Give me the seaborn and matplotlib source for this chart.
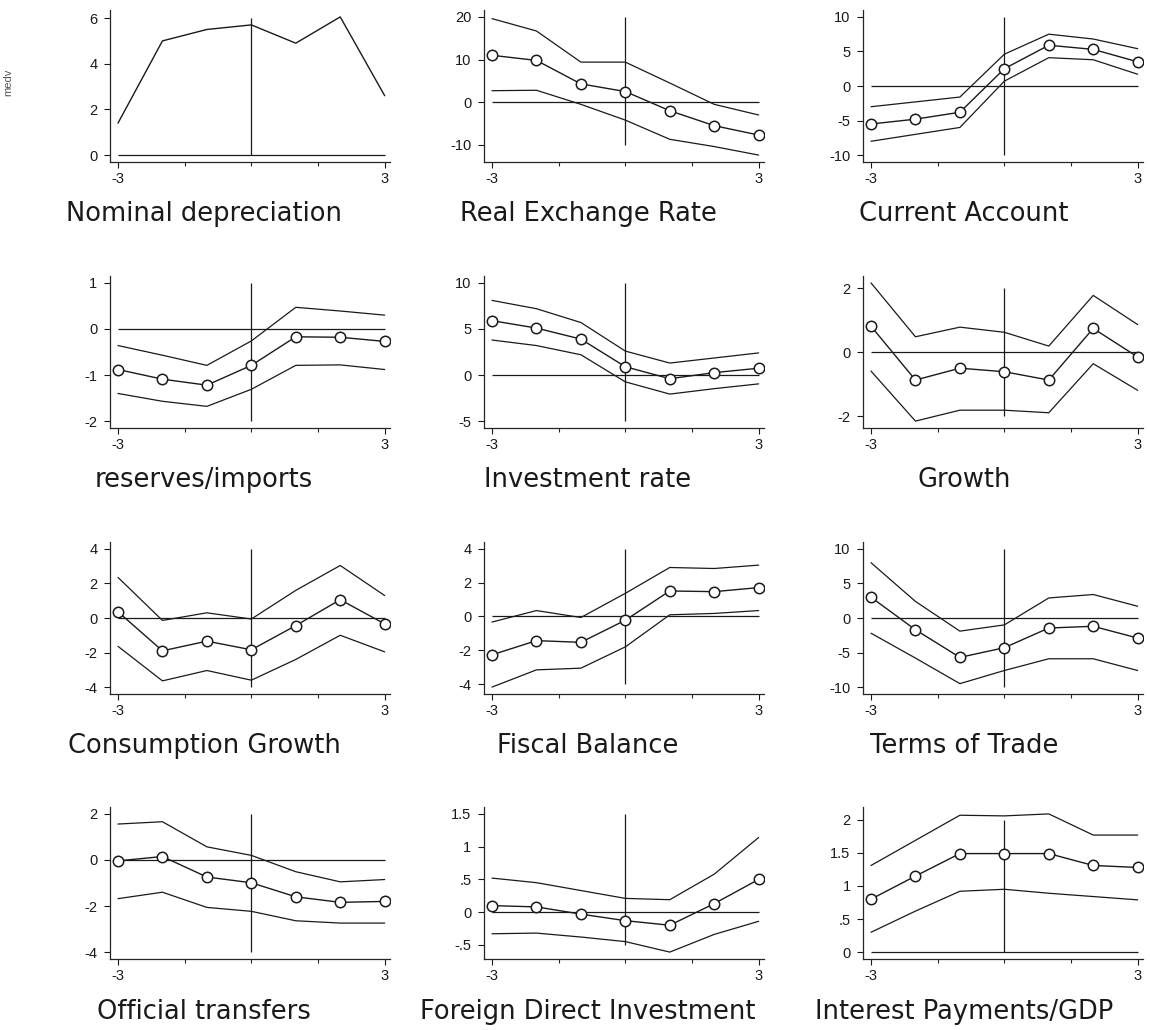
import numpy as np
import pandas as pd
import matplotlib
matplotlib.use("Agg")
import matplotlib.pyplot as plt
import seaborn as sns

# event window (years around the crisis)
periods = [-3, -2, -1, 0, 1, 2, 3]

titles = ["Nominal depreciation", "Real Exchange Rate", "Current Account",
          "reserves/imports", "Investment rate", "Growth",
          "Consumption Growth", "Fiscal Balance", "Terms of Trade",
          "Official transfers", "Foreign Direct Investment", "Interest Payments/GDP"]

# median paths (circles) and upper / lower bands
nominal_dep = [1.4, 5.0, 5.5, 5.7, 4.9, 6.05, 2.6]

rer_mean = [11.0, 9.8, 4.3, 2.5, -2.0, -5.5, -7.7]
rer_upper = [19.6, 16.7, 9.4, 9.4, 4.5, -0.5, -3.0]
rer_lower = [2.7, 2.8, -0.5, -4.2, -8.7, -10.4, -12.4]

ca_mean = [-5.5, -4.8, -3.8, 2.5, 5.9, 5.3, 3.5]
ca_upper = [-3.0, -2.3, -1.6, 4.6, 7.5, 6.8, 5.4]
ca_lower = [-8.0, -7.0, -6.0, 0.7, 4.1, 3.8, 1.7]

res_mean = [-0.88, -1.09, -1.22, -0.79, -0.17, -0.18, -0.27]
res_upper = [-0.36, -0.57, -0.79, -0.26, 0.47, 0.39, 0.30]
res_lower = [-1.40, -1.57, -1.68, -1.31, -0.79, -0.78, -0.88]

inv_mean = [5.9, 5.1, 3.9, 0.9, -0.4, 0.26, 0.74]
inv_upper = [8.1, 7.2, 5.7, 2.6, 1.3, 1.85, 2.4]
inv_lower = [3.8, 3.2, 2.2, -0.74, -2.07, -1.48, -0.96]

gro_mean = [0.81, -0.87, -0.5, -0.61, -0.87, 0.74, -0.15]
gro_upper = [2.16, 0.48, 0.78, 0.62, 0.19, 1.77, 0.86]
gro_lower = [-0.59, -2.15, -1.81, -1.81, -1.89, -0.36, -1.19]

con_mean = [0.36, -1.9, -1.34, -1.84, -0.44, 1.06, -0.34]
con_upper = [2.35, -0.14, 0.3, -0.06, 1.6, 3.04, 1.3]
con_lower = [-1.64, -3.64, -3.04, -3.6, -2.4, -1.0, -1.96]

fis_mean = [-2.27, -1.43, -1.53, -0.22, 1.51, 1.47, 1.71]
fis_upper = [-0.33, 0.35, -0.06, 1.37, 2.9, 2.84, 3.04]
fis_lower = [-4.18, -3.16, -3.06, -1.8, 0.1, 0.18, 0.35]

tot_mean = [3.0, -1.7, -5.7, -4.3, -1.45, -1.2, -2.9]
tot_upper = [8.0, 2.4, -1.9, -1.0, 2.9, 3.4, 1.7]
tot_lower = [-2.2, -5.8, -9.5, -7.6, -5.9, -5.9, -7.6]

otr_mean = [-0.04, 0.15, -0.74, -0.99, -1.6, -1.84, -1.8]
otr_upper = [1.56, 1.66, 0.57, 0.2, -0.51, -0.95, -0.85]
otr_lower = [-1.68, -1.4, -2.06, -2.23, -2.64, -2.74, -2.74]

fdi_mean = [0.1, 0.08, -0.03, -0.13, -0.2, 0.13, 0.5]
fdi_upper = [0.52, 0.45, 0.33, 0.21, 0.19, 0.58, 1.14]
fdi_lower = [-0.33, -0.32, -0.38, -0.45, -0.61, -0.34, -0.14]

int_mean = [0.8, 1.15, 1.49, 1.49, 1.49, 1.31, 1.28]
int_upper = [1.31, 1.69, 2.07, 2.06, 2.09, 1.77, 1.77]
int_lower = [0.3, 0.62, 0.92, 0.95, 0.89, 0.84, 0.79]

means = [nominal_dep, rer_mean, ca_mean, res_mean, inv_mean, gro_mean,
         con_mean, fis_mean, tot_mean, otr_mean, fdi_mean, int_mean]
uppers = [None, rer_upper, ca_upper, res_upper, inv_upper, gro_upper,
          con_upper, fis_upper, tot_upper, otr_upper, fdi_upper, int_upper]
lowers = [None, rer_lower, ca_lower, res_lower, inv_lower, gro_lower,
          con_lower, fis_lower, tot_lower, otr_lower, fdi_lower, int_lower]

yticks = [[0, 2, 4, 6], [-10, 0, 10, 20], [-10, -5, 0, 5, 10],
          [-2, -1, 0, 1], [-5, 0, 5, 10], [-2, 0, 2],
          [-4, -2, 0, 2, 4], [-4, -2, 0, 2, 4], [-10, -5, 0, 5, 10],
          [-4, -2, 0, 2], [-0.5, 0, 0.5, 1, 1.5], [0, 0.5, 1, 1.5, 2]]
ytick_labels = [["0", "2", "4", "6"], ["-10", "0", "10", "20"], ["-10", "-5", "0", "5", "10"],
                ["-2", "-1", "0", "1"], ["-5", "0", "5", "10"], ["-2", "0", "2"],
                ["-4", "-2", "0", "2", "4"], ["-4", "-2", "0", "2", "4"], ["-10", "-5", "0", "5", "10"],
                ["-4", "-2", "0", "2"], ["-.5", "0", ".5", "1", "1.5"], ["0", ".5", "1", "1.5", "2"]]

sns.set_style("ticks")
plt.rcParams["font.family"] = ["Liberation Sans", "DejaVu Sans"]
ink = "#1a1a1a"

W, H = 1150, 1030
fig = plt.figure(figsize=(W / 100, H / 100), dpi=100)

col_left = [110, 484, 863]
col_w = 280
row_top = [10, 276, 542, 807]
row_h = 152
title_x = [204, 588, 964]
title_y = [214, 480, 746, 1012]

for i in range(12):
    r, c = divmod(i, 3)
    ax = fig.add_axes([col_left[c] / W, 1 - (row_top[r] + row_h) / H, col_w / W, row_h / H])

    # reference lines
    ax.hlines(0, -3, 3, color=ink, lw=0.9)
    ax.vlines(0, min(yticks[i]), max(yticks[i]), color=ink, lw=0.9)

    if uppers[i] is None:
        sns.lineplot(x=periods, y=means[i], ax=ax, color=ink, lw=1.0)
    else:
        sns.lineplot(x=periods, y=uppers[i], ax=ax, color=ink, lw=0.9)
        sns.lineplot(x=periods, y=lowers[i], ax=ax, color=ink, lw=0.9)
        sns.lineplot(x=periods, y=means[i], ax=ax, color=ink, lw=1.0, marker="o",
                     markersize=7.5, markerfacecolor="white", markeredgecolor=ink, markeredgewidth=1.1)

    vals = means[i] + (uppers[i] or []) + (lowers[i] or []) + yticks[i] + [0]
    lo, hi = min(vals), max(vals)
    pad = (hi - lo) * 0.05
    ax.set_ylim(lo - pad, hi + pad)
    ax.set_xlim(-3.18, 3.12)

    sns.despine(ax=ax)
    ax.spines["left"].set_linewidth(0.9)
    ax.spines["bottom"].set_linewidth(0.9)
    ax.set_xticks([-3, 3])
    ax.set_xticklabels(["-3", "3"])
    ax.set_xticks([-1.5, 0, 1.5], minor=True)
    ax.set_yticks(yticks[i])
    ax.set_yticklabels(ytick_labels[i])
    ax.tick_params(length=4, width=0.8, labelsize=10.5, pad=5, colors=ink)
    ax.tick_params(axis="x", which="major", pad=3)
    ax.tick_params(axis="x", which="minor", length=3, width=0.8)
    ax.set_xlabel("")
    ax.set_ylabel("")

    fig.text(title_x[c] / W, 1 - title_y[r] / H, titles[i], ha="center", va="center",
             fontsize=18.5, color=ink, family="DejaVu Sans")

fig.text(8 / W, 1 - 82 / H, "medv", rotation=90, ha="center", va="center",
         fontsize=8, color="#555555")

plt.savefig("out.png", dpi=100)
